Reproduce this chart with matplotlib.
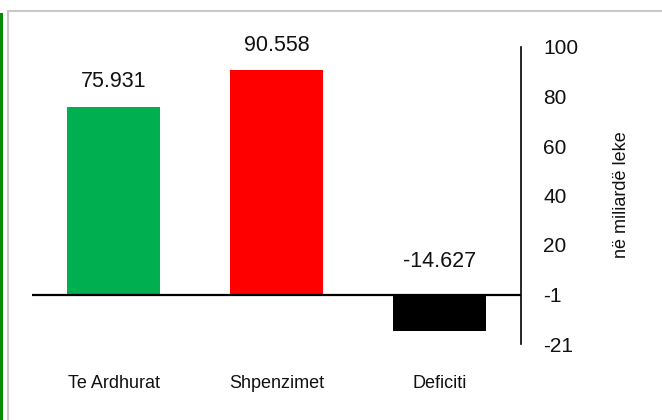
import numpy as np
import matplotlib.pyplot as plt
from matplotlib.lines import Line2D
from matplotlib.patches import Rectangle

categories = ['Te Ardhurat', 'Shpenzimet', 'Deficiti']
values = [75.931, 90.558, -14.627]
value_labels = ['75.931', '90.558', '-14.627']
bar_colors = ['#00B050', '#FF0000', '#000000']
ytick_values = [-20, 0, 20, 40, 60, 80, 100]
ytick_labels = ['-21', '-1', '20', '40', '60', '80', '100']

plt.rcParams['font.family'] = ['Liberation Sans', 'DejaVu Sans']
W, H = 662, 420
fig = plt.figure(figsize=(W / 100, H / 100), dpi=100)

# axes placed in pixel terms of the screenshot
x0, x1, ytop, ybot = 32, 521, 47, 344
ax = fig.add_axes([x0 / W, (H - ybot) / H, (x1 - x0) / W, (ybot - ytop) / H])

x = np.arange(len(categories))
ax.bar(x, values, width=0.57, color=bar_colors)
ax.axhline(0, color='black', lw=1.6, zorder=3)
ax.set_xlim(-0.5, 2.5)
ax.set_ylim(-20, 100)

for xi, v, lab in zip(x, values, value_labels):
    off = 18 if v >= 0 else 24
    ax.annotate(lab, (xi, max(v, 0)), xytext=(0, off), textcoords='offset points',
                ha='center', va='center', fontsize=15.5, color='#111111')

for s in ['top', 'left', 'bottom']:
    ax.spines[s].set_visible(False)
ax.spines['right'].set_linewidth(1.2)

ax.yaxis.tick_right()
ax.set_yticks(ytick_values)
ax.set_yticklabels(ytick_labels, fontsize=15, color='#111111')
ax.tick_params(axis='y', length=0, pad=16)

ax.set_xticks(x)
ax.set_xticklabels(categories, fontsize=13, color='#111111')
ax.tick_params(axis='x', length=0, pad=22)

fig.text(622 / W, 1 - 195 / H, 'në miliardë leke', rotation=90, fontsize=13,
         ha='center', va='center', color='#111111')

# screenshot frame: green strip and grey border
fig.add_artist(Rectangle((0, 0), 3 / W, (H - 13) / H, transform=fig.transFigure,
                         color='#078a07', lw=0))
fig.add_artist(Line2D([7.5 / W, 7.5 / W], [0, (H - 11) / H], transform=fig.transFigure,
                      color='#c8c8c8', lw=1.5))
fig.add_artist(Line2D([7.5 / W, 1], [(H - 11) / H, (H - 11) / H], transform=fig.transFigure,
                      color='#c8c8c8', lw=1.5))

fig.savefig('out.png', dpi=100)
